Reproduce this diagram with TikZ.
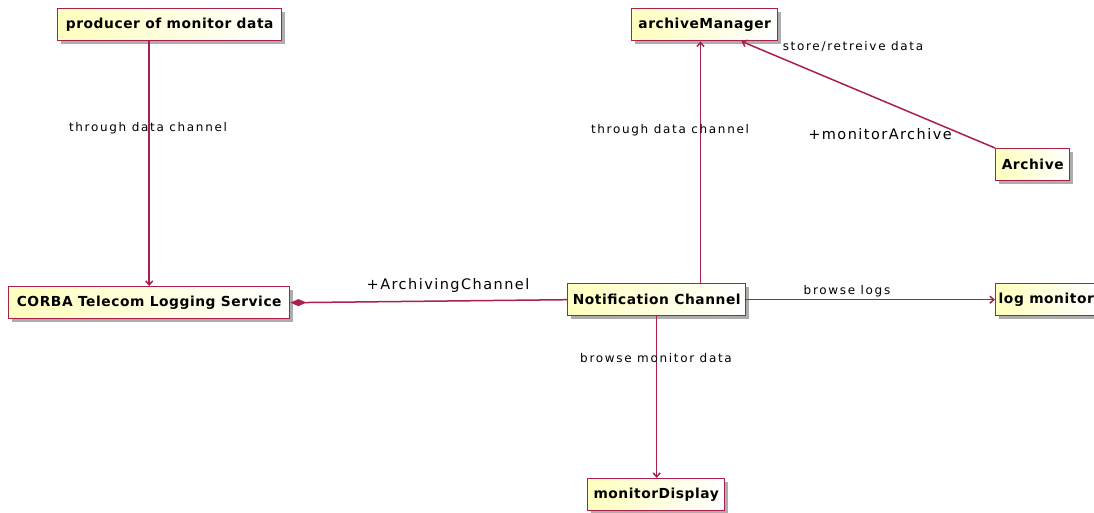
\documentclass[tikz,border=0pt]{standalone}
\usepackage{fontspec}
\setmainfont{DejaVu Sans}
\newfontfamily\clsfont[LetterSpace=4]{DejaVu Sans}
\newfontfamily\lblfont[LetterSpace=14]{DejaVu Sans}
\newfontfamily\rolefont[LetterSpace=10]{DejaVu Sans}
\usetikzlibrary{arrows.meta,shadows,calc}
\definecolor{edgecol}{RGB}{170,32,75}
\definecolor{clsfill}{RGB}{255,255,190}
\tikzset{
  cls/.style={draw=edgecol, line width=1.4pt, left color=clsfill, right color=white,
    font=\clsfont\bfseries\fontsize{13.8}{15}\selectfont, inner sep=0pt,
    minimum height=32pt, anchor=north west,
    drop shadow={shadow xshift=3pt, shadow yshift=-3pt, fill=black!40, opacity=0.8}},
  conn/.style={draw=edgecol, line width=1.5pt},
  arr/.style={conn, -{Straight Barb[length=4pt,width=7pt]}},
  lbl/.style={font=\lblfont\fontsize{12}{14}\selectfont, inner sep=0pt},
  role/.style={font=\rolefont\fontsize{14.5}{16}\selectfont, inner sep=0pt},
}
\begin{document}
\begin{tikzpicture}[x=1pt,y=-1pt]
\useasboundingbox[fill=white] (0,0) rectangle (1094,513);

% classes
\node[cls, minimum width=224pt] (prod) at (57,8) {producer of monitor data};
\node[cls, minimum width=146pt] (am) at (631,8) {archiveManager};
\node[cls, minimum width=281pt] (cor) at (8,286) {CORBA Telecom Logging Service};
\node[cls, minimum width=178pt] (nc) at (567,283) {Notification Channel};
\node[cls, inner xsep=3pt] (lm) at (995,283) {log monitor};
\node[cls, minimum width=137pt] (md) at (587,478) {monitorDisplay};
\node[cls, minimum width=74pt] (ar) at (995,148) {Archive};

% vertical line from the channel up to the archive manager
\coordinate (upx) at (700.5,0);

% connectors
\draw[arr] (prod.south -| cor.north) -- (cor.north);
\draw[conn, -{Diamond[length=16pt,width=7pt]}] (nc.west) -- (cor.east);
\draw[arr] (nc.north -| upx) -- (am.south -| upx);
\draw[arr] (ar.north west) -- ($(am.south)!0.5!(am.south east)$);
\draw[arr] (nc.east) -- (nc.east -| lm.west);
\draw[arr] (nc.south) -- (nc.south |- md.north);

% labels
\node[lbl] (l1) at (148,128) {through data channel};
\node[role] (l2) at (448,285) {+ArchivingChannel};
\node[lbl] (l3) at (670,130) {through data channel};
\node[lbl] (l4) at (853,47) {store/retreive data};
\node[role] (l5) at (880,134) {+monitorArchive};
\node[lbl] (l6) at (847,291) {browse logs};
\node[lbl] (l7) at (656,358) {browse monitor data};
\end{tikzpicture}
\end{document}
